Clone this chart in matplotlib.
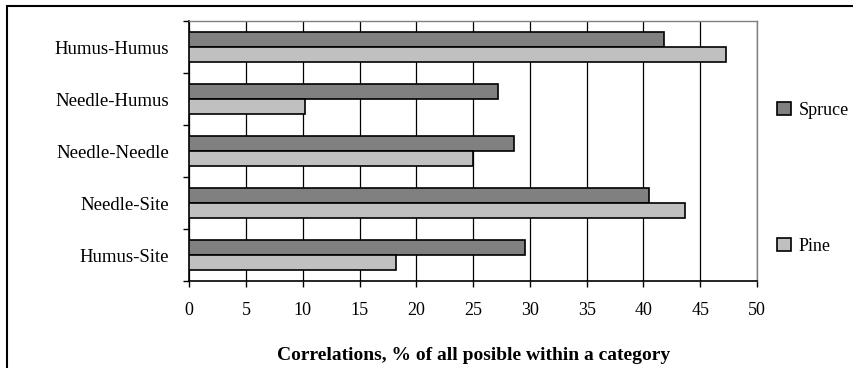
import matplotlib
matplotlib.use("Agg")
import matplotlib.pyplot as plt
import numpy as np
from matplotlib.patches import Rectangle

categories = ["Humus-Humus", "Needle-Humus", "Needle-Needle", "Needle-Site", "Humus-Site"]
spruce = [41.8, 27.2, 28.6, 40.5, 29.6]
pine = [47.3, 10.2, 25.0, 43.7, 18.2]
xticks = [0, 5, 10, 15, 20, 25, 30, 35, 40, 45, 50]
xlabel = "Correlations, % of all posible within a category"

plt.rcParams['font.family'] = ['Liberation Serif', 'DejaVu Serif']

W, H = 854, 368
fig = plt.figure(figsize=(W / 100, H / 100), dpi=100)
ax = fig.add_axes([189.3 / W, 1 - 281 / H, (757 - 189.3) / W, (281 - 21) / H])

n = len(categories)
pos = np.arange(n)[::-1].astype(float)  # top category first
bh = 0.28
ax.barh(pos + bh / 2, spruce, height=bh, color="#808080", edgecolor="black", linewidth=1.2, label="Spruce", zorder=3)
ax.barh(pos - bh / 2, pine, height=bh, color="#C0C0C0", edgecolor="black", linewidth=1.2, label="Pine", zorder=3)

ax.set_xlim(0, 50)
ax.set_ylim(-0.5, n - 0.5)
ax.set_xticks(xticks)
ax.set_xticklabels([str(t) for t in xticks], fontsize=13)
ax.set_yticks(np.arange(-0.5, n, 1.0))
ax.set_yticklabels([])
ax.set_yticks(pos, minor=True)
ax.set_yticklabels(categories, minor=True, fontsize=13.5)
ax.tick_params(axis='y', which='minor', length=0, pad=14.5)
ax.tick_params(axis='y', which='major', length=4.5, width=1, direction='out', color='black')
ax.tick_params(axis='x', length=4, width=1, direction='out', pad=11)
ax.xaxis.grid(True, color='black', linewidth=0.9, zorder=0)
ax.set_axisbelow(True)
for s in ['top', 'right']:
    ax.spines[s].set_color('#808080')
    ax.spines[s].set_linewidth(1.0)
for s in ['left', 'bottom']:
    ax.spines[s].set_color('black')
    ax.spines[s].set_linewidth(1.2)

ax.set_xlabel(xlabel, fontsize=14, fontweight='bold', labelpad=20)

handles, labels = ax.get_legend_handles_labels()
fig.legend(handles, labels, loc='center left', bbox_to_anchor=(777 / W, 1 - 178.5 / H),
           frameon=False, fontsize=13, handlelength=0.75, handleheight=0.75,
           handletextpad=0.45, labelspacing=6.6, borderpad=0, borderaxespad=0)

fig.add_artist(Rectangle((7 / W, -0.05), 1.2, 1 - 6 / H + 0.05, transform=fig.transFigure,
                         fill=False, edgecolor='black', linewidth=1.5))

fig.savefig("out.png", dpi=100)
